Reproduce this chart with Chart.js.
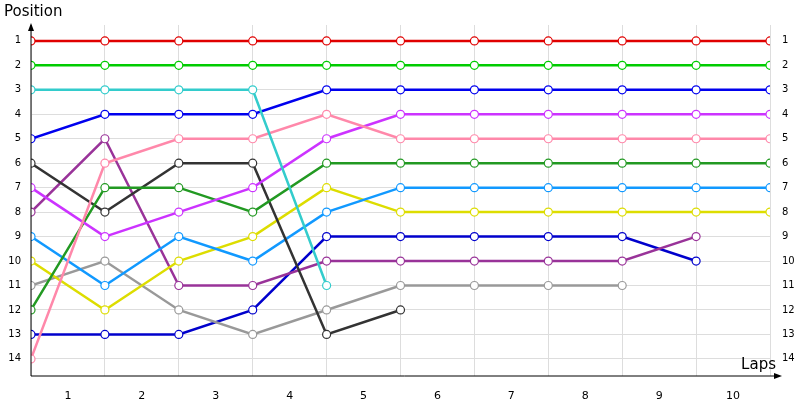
<!DOCTYPE html>
<html><head><script src="https://cdn.jsdelivr.net/npm/chart.js@4"></script>
<style>body{margin:0;background:#fff}#w{width:800px;height:400px}</style></head>
<body><div id="w"><canvas id="c"></canvas></div>
<script>
const laps=[0,1,2,3,4,5,6,7,8,9,10];
const lapLabels=['1','2','3','4','5','6','7','8','9','10'];
const positions=[1,2,3,4,5,6,7,8,9,10,11,12,13,14];
const red=[1,1,1,1,1,1,1,1,1,1,1];
const green=[2,2,2,2,2,2,2,2,2,2,2];
const cyan=[3,3,3,3,11];
const blue=[5,4,4,4,3,3,3,3,3,3,3];
const pink=[14,6,5,5,4,5,5,5,5,5,5];
const violet=[7,9,8,7,5,4,4,4,4,4,4];
const dgreen=[12,7,7,8,6,6,6,6,6,6,6];
const dark=[6,8,6,6,13,12];
const azure=[9,11,9,10,8,7,7,7,7,7,7];
const yellow=[10,12,10,9,7,8,8,8,8,8,8];
const purple=[8,5,11,11,10,10,10,10,10,9];
const gray=[11,10,12,13,12,11,11,11,11];
const navy=[13,13,13,12,9,9,9,9,9,10];
const series=[[red,'#e00000'],[green,'#00cc00'],[cyan,'#33cccc'],[blue,'#0000ee'],[pink,'#ff88aa'],[violet,'#cc33ff'],[dgreen,'#229922'],[dark,'#333333'],[azure,'#1199ff'],[yellow,'#dddd00'],[purple,'#993399'],[gray,'#999999'],[navy,'#0000cc']];
const datasets=series.map(([d,c])=>({data:d.map((v,i)=>({x:laps[i],y:v})),borderColor:c,backgroundColor:'#fff',borderWidth:2.5,pointRadius:4,pointBorderWidth:1.2,pointBackgroundColor:'#fff',pointBorderColor:c,tension:0}));
const deco={id:'deco',afterDraw(ch){const g=ch.ctx,a=ch.chartArea;g.save();g.strokeStyle='#000';g.fillStyle='#000';g.lineWidth=1;
g.beginPath();g.moveTo(a.left,a.bottom);g.lineTo(a.left,a.top);g.moveTo(a.left,a.bottom);g.lineTo(a.right+8,a.bottom);g.stroke();
g.beginPath();g.moveTo(a.left,a.top-2);g.lineTo(a.left-3,a.top+6);g.lineTo(a.left+3,a.top+6);g.fill();
g.beginPath();g.moveTo(a.right+12,a.bottom);g.lineTo(a.right+4,a.bottom-3);g.lineTo(a.right+4,a.bottom+3);g.fill();
g.font='15px "DejaVu Sans"';g.textBaseline='top';g.textAlign='left';g.fillText('Position',4,5);
g.textAlign='right';g.textBaseline='bottom';g.fillText('Laps',776,a.bottom-3);g.restore();}};
const fixTicks=(vals)=>s=>{s.ticks=vals.map(v=>({value:v}));};
new Chart(document.getElementById('c'),{type:'line',data:{datasets},plugins:[deco],
options:{responsive:true,maintainAspectRatio:false,animation:false,layout:{padding:{top:25,left:0,right:0,bottom:0}},
plugins:{legend:{display:false},tooltip:{enabled:false}},
scales:{
x:{type:'linear',min:0,max:10,afterBuildTicks:fixTicks(laps),grid:{color:'#dddddd',drawTicks:false},border:{display:false},ticks:{display:false},afterFit:s=>{s.height=0}},
x2:{type:'linear',position:'bottom',min:0,max:10,afterBuildTicks:fixTicks(lapLabels.map((l,i)=>i+0.5)),grid:{display:false},border:{display:false},ticks:{color:'#000',font:{family:'DejaVu Sans',size:11},padding:6,callback:(v)=>lapLabels[Math.round(v-0.5)]},afterFit:s=>{s.height=24}},
y:{type:'linear',reverse:true,min:0.35,max:14.7,afterBuildTicks:fixTicks(positions),grid:{color:'#dddddd',drawTicks:false},border:{display:false},ticks:{color:'#000',font:{family:'DejaVu Sans',size:10},padding:10,callback:v=>v},afterFit:s=>{s.width=31}},
y2:{type:'linear',position:'right',reverse:true,min:0.35,max:14.7,afterBuildTicks:fixTicks(positions),grid:{display:false},border:{display:false},ticks:{color:'#000',font:{family:'DejaVu Sans',size:10},padding:4,callback:v=>v},afterFit:s=>{s.width=30}}
}}});
</script></body></html>
